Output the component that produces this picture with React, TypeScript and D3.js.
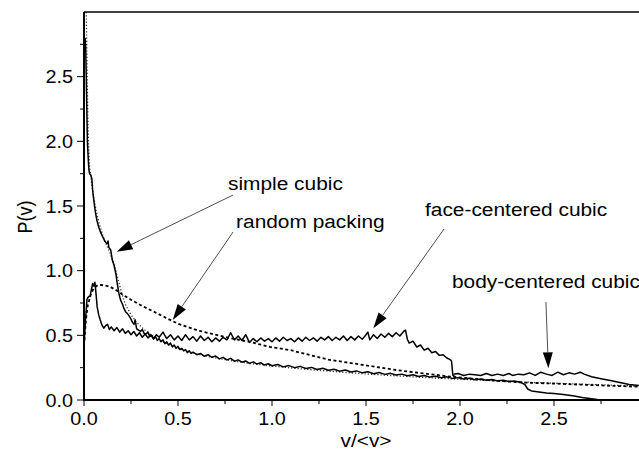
import React from 'react';
import * as d3 from 'd3';

// chart size and plot frame (the right edge of the frame lies just outside the picture)
const width = 639;
const height = 451;
const plot = { left: 84, right: 648, top: 12, bottom: 400 };

const xMajor = [0, 0.5, 1.0, 1.5, 2.0, 2.5];
const xMinor = [0.25, 0.75, 1.25, 1.75, 2.25, 2.75];
const yMajor = [0, 0.5, 1.0, 1.5, 2.0, 2.5];
const yMinor = [0.25, 0.75, 1.25, 1.75, 2.25, 2.75];

// simple cubic (solid)
const simpleCubic: [number, number][] = [
  [0.006, 2.8], [0.009, 2.72], [0.012, 2.5], [0.015, 2.25], [0.018, 2.0], [0.022, 1.88],
  [0.026, 1.78], [0.03, 1.75], [0.036, 1.74], [0.042, 1.71], [0.046, 1.62], [0.05, 1.57],
  [0.056, 1.5], [0.062, 1.44], [0.07, 1.38], [0.08, 1.33], [0.09, 1.29], [0.1, 1.26],
  [0.11, 1.23], [0.118, 1.215], [0.124, 1.21], [0.128, 1.23], [0.132, 1.18], [0.142, 1.16],
  [0.151, 1.08], [0.16, 1.04], [0.169, 0.98], [0.177, 0.9], [0.186, 0.82], [0.195, 0.77],
  [0.205, 0.74], [0.212, 0.71], [0.222, 0.68], [0.23, 0.67], [0.24, 0.65], [0.25, 0.625],
  [0.258, 0.6], [0.266, 0.585], [0.272, 0.62], [0.28, 0.55], [0.29, 0.54], [0.3, 0.53],
  [0.31, 0.545], [0.32, 0.515], [0.33, 0.51], [0.34, 0.525], [0.35, 0.49], [0.36, 0.5],
  [0.37, 0.475], [0.38, 0.49], [0.39, 0.46], [0.4, 0.475], [0.41, 0.45], [0.42, 0.465],
  [0.43, 0.435], [0.44, 0.45], [0.45, 0.425], [0.46, 0.44], [0.47, 0.41], [0.48, 0.425],
  [0.49, 0.4], [0.5, 0.415], [0.51, 0.39], [0.52, 0.4], [0.53, 0.38], [0.54, 0.39],
  [0.55, 0.365], [0.56, 0.38], [0.57, 0.36], [0.58, 0.37], [0.6, 0.35], [0.62, 0.36],
  [0.64, 0.338], [0.66, 0.35], [0.68, 0.33], [0.7, 0.34], [0.72, 0.318], [0.74, 0.33],
  [0.76, 0.31], [0.78, 0.322], [0.8, 0.3], [0.82, 0.31], [0.84, 0.292], [0.86, 0.302],
  [0.88, 0.283], [0.9, 0.295], [0.92, 0.278], [0.94, 0.288], [0.96, 0.27], [0.98, 0.28],
  [1.0, 0.265], [1.03, 0.274], [1.06, 0.256], [1.09, 0.266], [1.12, 0.25], [1.15, 0.26],
  [1.18, 0.243], [1.21, 0.252], [1.24, 0.236], [1.27, 0.246], [1.3, 0.23], [1.33, 0.238],
  [1.36, 0.222], [1.39, 0.232], [1.42, 0.216], [1.45, 0.225], [1.48, 0.21], [1.51, 0.218],
  [1.54, 0.203], [1.57, 0.212], [1.6, 0.198], [1.63, 0.206], [1.66, 0.193], [1.69, 0.2],
  [1.72, 0.188], [1.75, 0.195], [1.78, 0.182], [1.81, 0.19], [1.84, 0.177], [1.87, 0.184],
  [1.9, 0.172], [1.93, 0.179], [1.96, 0.167], [1.99, 0.173], [2.02, 0.162], [2.05, 0.168],
  [2.08, 0.157], [2.11, 0.163], [2.14, 0.152], [2.17, 0.158], [2.2, 0.148], [2.23, 0.153],
  [2.26, 0.143], [2.29, 0.147], [2.32, 0.138], [2.345, 0.12], [2.36, 0.085], [2.38, 0.07],
  [2.42, 0.062], [2.46, 0.055], [2.5, 0.05], [2.55, 0.042], [2.6, 0.032], [2.65, 0.02],
  [2.7, 0.01], [2.73, 0.004],
];

// face-centered cubic (solid)
const faceCentered: [number, number][] = [
  [0.0, 0.41], [0.008, 0.62], [0.016, 0.78], [0.024, 0.8], [0.032, 0.8], [0.04, 0.86],
  [0.046, 0.9], [0.052, 0.88], [0.058, 0.91], [0.064, 0.82], [0.07, 0.72], [0.078, 0.66],
  [0.086, 0.62], [0.095, 0.58], [0.105, 0.555], [0.115, 0.575], [0.125, 0.585], [0.135, 0.545],
  [0.145, 0.565], [0.16, 0.535], [0.175, 0.56], [0.19, 0.525], [0.205, 0.55], [0.22, 0.515],
  [0.235, 0.535], [0.25, 0.505], [0.265, 0.53], [0.28, 0.495], [0.295, 0.52], [0.31, 0.485],
  [0.325, 0.51], [0.34, 0.48], [0.355, 0.505], [0.37, 0.47], [0.385, 0.505], [0.4, 0.485],
  [0.42, 0.525], [0.44, 0.475], [0.46, 0.505], [0.48, 0.465], [0.5, 0.495], [0.52, 0.46],
  [0.54, 0.505], [0.56, 0.465], [0.58, 0.49], [0.6, 0.455], [0.62, 0.495], [0.64, 0.46],
  [0.66, 0.485], [0.68, 0.45], [0.7, 0.48], [0.72, 0.455], [0.74, 0.485], [0.76, 0.465],
  [0.78, 0.52], [0.8, 0.465], [0.82, 0.495], [0.84, 0.46], [0.86, 0.505], [0.88, 0.445],
  [0.9, 0.475], [0.92, 0.45], [0.94, 0.48], [0.96, 0.455], [0.98, 0.475], [1.0, 0.45],
  [1.02, 0.48], [1.04, 0.455], [1.06, 0.485], [1.08, 0.46], [1.1, 0.475], [1.12, 0.45],
  [1.14, 0.48], [1.16, 0.455], [1.18, 0.485], [1.2, 0.46], [1.22, 0.48], [1.24, 0.455],
  [1.26, 0.485], [1.28, 0.465], [1.3, 0.49], [1.32, 0.46], [1.34, 0.485], [1.36, 0.465],
  [1.38, 0.495], [1.4, 0.46], [1.42, 0.49], [1.44, 0.465], [1.46, 0.495], [1.48, 0.47],
  [1.5, 0.505], [1.51, 0.525], [1.52, 0.465], [1.54, 0.505], [1.56, 0.475], [1.58, 0.51],
  [1.6, 0.485], [1.62, 0.515], [1.64, 0.49], [1.66, 0.52], [1.68, 0.495], [1.7, 0.53],
  [1.71, 0.54], [1.72, 0.47], [1.73, 0.44], [1.75, 0.455], [1.77, 0.41], [1.79, 0.425],
  [1.81, 0.385], [1.83, 0.4], [1.85, 0.365], [1.87, 0.375], [1.89, 0.345], [1.91, 0.35],
  [1.93, 0.325], [1.95, 0.31], [1.955, 0.3], [1.962, 0.19], [1.975, 0.18],
];

// body-centered cubic (solid)
const bodyCentered: [number, number][] = [
  [1.965, 0.2], [1.99, 0.205], [2.02, 0.19], [2.05, 0.2], [2.08, 0.195], [2.11, 0.19],
  [2.14, 0.205], [2.17, 0.19], [2.2, 0.2], [2.23, 0.19], [2.26, 0.205], [2.28, 0.19],
  [2.31, 0.2], [2.34, 0.195], [2.37, 0.21], [2.4, 0.19], [2.43, 0.215], [2.46, 0.2],
  [2.49, 0.19], [2.52, 0.215], [2.55, 0.195], [2.58, 0.21], [2.61, 0.2], [2.64, 0.215],
  [2.66, 0.2], [2.7, 0.18], [2.75, 0.165], [2.8, 0.15], [2.85, 0.135], [2.9, 0.12], [2.96, 0.11],
];

// random packing (dashed)
const randomPacking: [number, number][] = [
  [0.0, 0.42], [0.01, 0.62], [0.02, 0.73], [0.035, 0.81], [0.05, 0.86], [0.07, 0.885],
  [0.09, 0.89], [0.11, 0.885], [0.14, 0.875], [0.17, 0.85], [0.2, 0.82], [0.25, 0.775],
  [0.3, 0.735], [0.35, 0.698], [0.4, 0.662], [0.45, 0.625], [0.5, 0.59], [0.55, 0.565],
  [0.6, 0.54], [0.67, 0.515], [0.78, 0.477], [0.88, 0.45], [0.99, 0.41], [1.1, 0.385],
  [1.2, 0.348], [1.3, 0.312], [1.4, 0.29], [1.49, 0.27], [1.58, 0.25], [1.66, 0.232],
  [1.75, 0.215], [1.84, 0.2], [1.95, 0.18], [2.04, 0.168], [2.2, 0.148], [2.35, 0.134],
  [2.5, 0.127], [2.62, 0.12], [2.8, 0.11], [2.96, 0.102],
];

// fitted curve (dotted)
const fitCurve: [number, number][] = [
  [0.012, 3.0], [0.015, 2.7], [0.018, 2.4], [0.021, 2.15], [0.025, 1.95], [0.03, 1.8],
  [0.04, 1.68], [0.05, 1.58], [0.065, 1.46], [0.08, 1.37], [0.1, 1.27], [0.12, 1.2],
  [0.14, 1.13], [0.16, 1.05], [0.18, 0.94], [0.2, 0.83], [0.22, 0.74], [0.25, 0.66],
  [0.28, 0.6], [0.32, 0.545], [0.36, 0.5], [0.42, 0.45], [0.5, 0.4], [0.6, 0.355],
  [0.7, 0.325], [0.8, 0.3], [0.9, 0.28], [1.0, 0.262], [1.2, 0.235], [1.4, 0.212],
  [1.6, 0.192], [1.8, 0.175], [2.0, 0.16], [2.2, 0.148], [2.4, 0.135], [2.6, 0.125],
  [2.8, 0.115], [2.96, 0.107],
];

// annotation labels with arrows: text anchor, arrow start, arrow tip (data units)
const annotations = [
  { label: 'simple cubic', text: [0.766, 1.624], from: [0.793, 1.585], to: [0.174, 1.147] },
  { label: 'random packing', text: [0.809, 1.33], from: [0.793, 1.299], to: [0.472, 0.619] },
  { label: 'face-centered cubic', text: [1.814, 1.419], from: [1.915, 1.322], to: [1.539, 0.554] },
  { label: 'body-centered cubic', text: [1.957, 0.866], from: [2.457, 0.758], to: [2.47, 0.245] },
];

const font = '"Liberation Sans", Arial, Helvetica, sans-serif';
const stretch = 1.16;

const App = () => {
  const x = d3.scaleLinear().domain([0, 3]).range([plot.left, plot.right]);
  const y = d3.scaleLinear().domain([0, 3]).range([plot.bottom, plot.top]);

  const line = d3.line<[number, number]>()
    .x(d => x(d[0]))
    .y(d => y(d[1]));

  const arrow = (a: typeof annotations[number], i: number) => {
    const x1 = x(a.from[0]), y1 = y(a.from[1]);
    const x2 = x(a.to[0]), y2 = y(a.to[1]);
    const ang = Math.atan2(y2 - y1, x2 - x1);
    const len = 16, half = 5;
    const bx = x2 - len * Math.cos(ang), by = y2 - len * Math.sin(ang);
    const p1 = [bx + half * Math.sin(ang), by - half * Math.cos(ang)];
    const p2 = [bx - half * Math.sin(ang), by + half * Math.cos(ang)];
    return (
      <g key={'a' + i}>
        <line x1={x1} y1={y1} x2={bx} y2={by} stroke="#222" strokeWidth={0.8} />
        <polygon points={`${x2},${y2} ${p1[0]},${p1[1]} ${p2[0]},${p2[1]}`} fill="#000" />
        <text
          transform={`translate(${x(a.text[0])},${y(a.text[1])}) scale(${stretch},1)`}
          fontSize={18}
          fontFamily={font}
          fill="#000"
        >
          {a.label}
        </text>
      </g>
    );
  };

  return (
    <svg
      width={width}
      height={height}
      style={{ position: 'absolute', left: 0, top: 0, background: '#fff' }}
    >
      <defs>
        <clipPath id="plotClip">
          <rect x={plot.left} y={plot.top} width={plot.right - plot.left} height={plot.bottom - plot.top} />
        </clipPath>
      </defs>

      <g clipPath="url(#plotClip)" fill="none" strokeLinejoin="round">
        <path d={line(fitCurve) || ''} stroke="#333" strokeWidth={1.3} strokeDasharray="1.2,2" />
        <path d={line(randomPacking) || ''} stroke="#000" strokeWidth={1.8} strokeDasharray="3,2.5" />
        <path d={line(simpleCubic) || ''} stroke="#000" strokeWidth={1.5} />
        <path d={line(faceCentered) || ''} stroke="#000" strokeWidth={1.5} />
        <path d={line(bodyCentered) || ''} stroke="#000" strokeWidth={1.5} />
      </g>

      {/* frame */}
      <line x1={plot.left} y1={plot.top} x2={plot.right} y2={plot.top} stroke="#000" strokeWidth={1.5} />
      <line x1={plot.left} y1={plot.top} x2={plot.left} y2={plot.bottom} stroke="#000" strokeWidth={2} />
      <line x1={plot.left - 1} y1={plot.bottom} x2={plot.right} y2={plot.bottom} stroke="#000" strokeWidth={2} />

      {/* x ticks */}
      {xMajor.map(t => (
        <g key={'xt' + t}>
          <line x1={x(t)} x2={x(t)} y1={plot.bottom} y2={plot.bottom + 6} stroke="#000" strokeWidth={1} />
          <text
            transform={`translate(${x(t)},425) scale(1.1,1)`}
            textAnchor="middle"
            fontSize={18}
            fontFamily={font}
          >
            {d3.format('.1f')(t)}
          </text>
        </g>
      ))}
      {xMinor.map(t => (
        <line key={'xm' + t} x1={x(t)} x2={x(t)} y1={plot.bottom} y2={plot.bottom + 4} stroke="#000" strokeWidth={1} />
      ))}

      {/* y ticks */}
      {yMajor.map(t => (
        <g key={'yt' + t}>
          <line x1={plot.left - 7} x2={plot.left} y1={y(t)} y2={y(t)} stroke="#000" strokeWidth={1} />
          <text
            transform={`translate(73,${y(t) + 6.5}) scale(1.1,1)`}
            textAnchor="end"
            fontSize={18}
            fontFamily={font}
          >
            {d3.format('.1f')(t)}
          </text>
        </g>
      ))}
      {yMinor.map(t => (
        <line key={'ym' + t} x1={plot.left - 4} x2={plot.left} y1={y(t)} y2={y(t)} stroke="#000" strokeWidth={1} />
      ))}

      {/* axis titles */}
      <text
        transform={`translate(32,${217}) scale(${stretch},1) rotate(-90)`}
        textAnchor="middle"
        fontSize={18}
        fontFamily={font}
      >
        P(v)
      </text>
      <text
        transform={`translate(${(plot.left + plot.right) / 2},447) scale(${stretch},1)`}
        textAnchor="middle"
        fontSize={18}
        fontFamily={font}
      >
        {'v/<v>'}
      </text>

      {annotations.map(arrow)}
    </svg>
  );
};

export default App;
